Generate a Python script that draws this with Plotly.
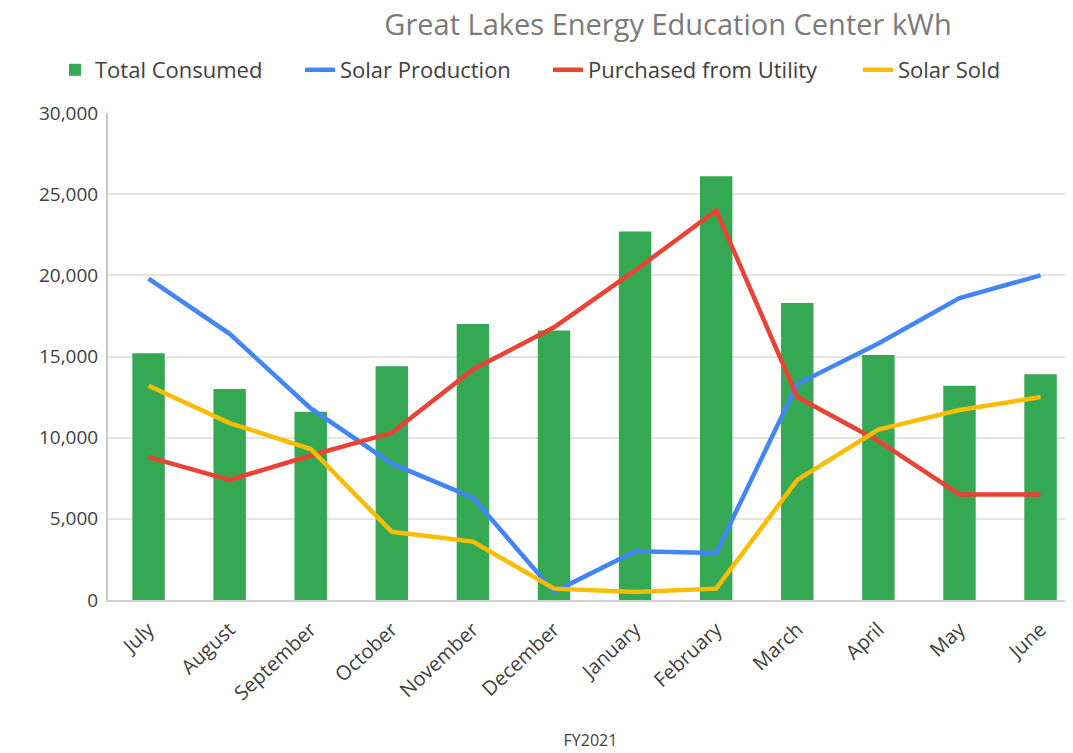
import plotly.graph_objects as go

months = ["July", "August", "September", "October", "November", "December",
          "January", "February", "March", "April", "May", "June"]
total_consumed = [15200, 13000, 11600, 14400, 17000, 16600, 22700, 26100, 18300, 15100, 13200, 13900]
solar_production = [19800, 16400, 11800, 8400, 6300, 500, 3000, 2900, 13300, 15800, 18600, 20000]
purchased_utility = [8800, 7400, 8900, 10300, 14200, 16800, 20300, 24000, 12500, 9800, 6500, 6500]
solar_sold = [13200, 10900, 9300, 4200, 3600, 700, 500, 700, 7400, 10500, 11700, 12500]
y_ticks = [0, 5000, 10000, 15000, 20000, 25000, 30000]
y_tick_labels = ["0", "5,000", "10,000", "15,000", "20,000", "25,000", "30,000"]

FONT = "Open Sans, sans-serif"
# the page places the figure 8px from the top-left corner of the window
W, H = 1065, 745

fig = go.Figure()
fig.add_trace(go.Bar(x=months, y=total_consumed, name="Total Consumed", legend="legend",
                     marker=dict(color="#34A853", line=dict(width=0)), width=0.4))
fig.add_trace(go.Scatter(x=months, y=solar_production, name="Solar Production", legend="legend2",
                         mode="lines", line=dict(color="#4285F4", width=4.5)))
fig.add_trace(go.Scatter(x=months, y=purchased_utility, name="Purchased from Utility", legend="legend3",
                         mode="lines", line=dict(color="#EA4335", width=4.5)))
fig.add_trace(go.Scatter(x=months, y=solar_sold, name="Solar Sold", legend="legend4",
                         mode="lines", line=dict(color="#FBBC04", width=4.5)))

def leg(xpx):
    return dict(orientation="h", xref="container", yref="container",
                x=xpx / W, xanchor="left", y=1 - 62 / H, yanchor="middle",
                font=dict(size=22, color="#404040", family=FONT),
                bgcolor="rgba(0,0,0,0)", itemwidth=30)

fig.update_layout(
    width=W, height=H,
    paper_bgcolor="white", plot_bgcolor="white",
    margin=dict(l=100, r=0, t=105, b=153),
    font=dict(family=FONT, color="#404040"),
    title=dict(text="Great Lakes Energy Education Center kWh",
               font=dict(size=29, color="#7a7a7a", family=FONT),
               x=660 / W, xanchor="center", xref="container", y=1 - 7 / H, yanchor="top",
               yref="container", automargin=False),
    legend=leg(47),
    legend2=leg(292),
    legend3=leg(540),
    legend4=leg(850),
    showlegend=True,
    bargap=0.5,
)
fig.update_xaxes(
    range=[-0.5, 11.4], showgrid=False, showline=True, linecolor="#d0d0d0", linewidth=2,
    ticks="", tickangle=-43, tickfont=dict(size=20, color="#404040"), automargin=False,
    ticklabelstandoff=8,
    title=dict(text="FY2021", font=dict(size=16, color="#404040"), standoff=30),
)
fig.update_yaxes(
    range=[0, 30000], tickvals=y_ticks, ticktext=y_tick_labels,
    showgrid=True, gridcolor="#e4e4e4", gridwidth=2, zeroline=False,
    showline=True, linecolor="#c8c8c8", linewidth=2, automargin=False,
    tickfont=dict(size=19, color="#404040"), ticklabelstandoff=4,
)

fig.write_html("out.html")
